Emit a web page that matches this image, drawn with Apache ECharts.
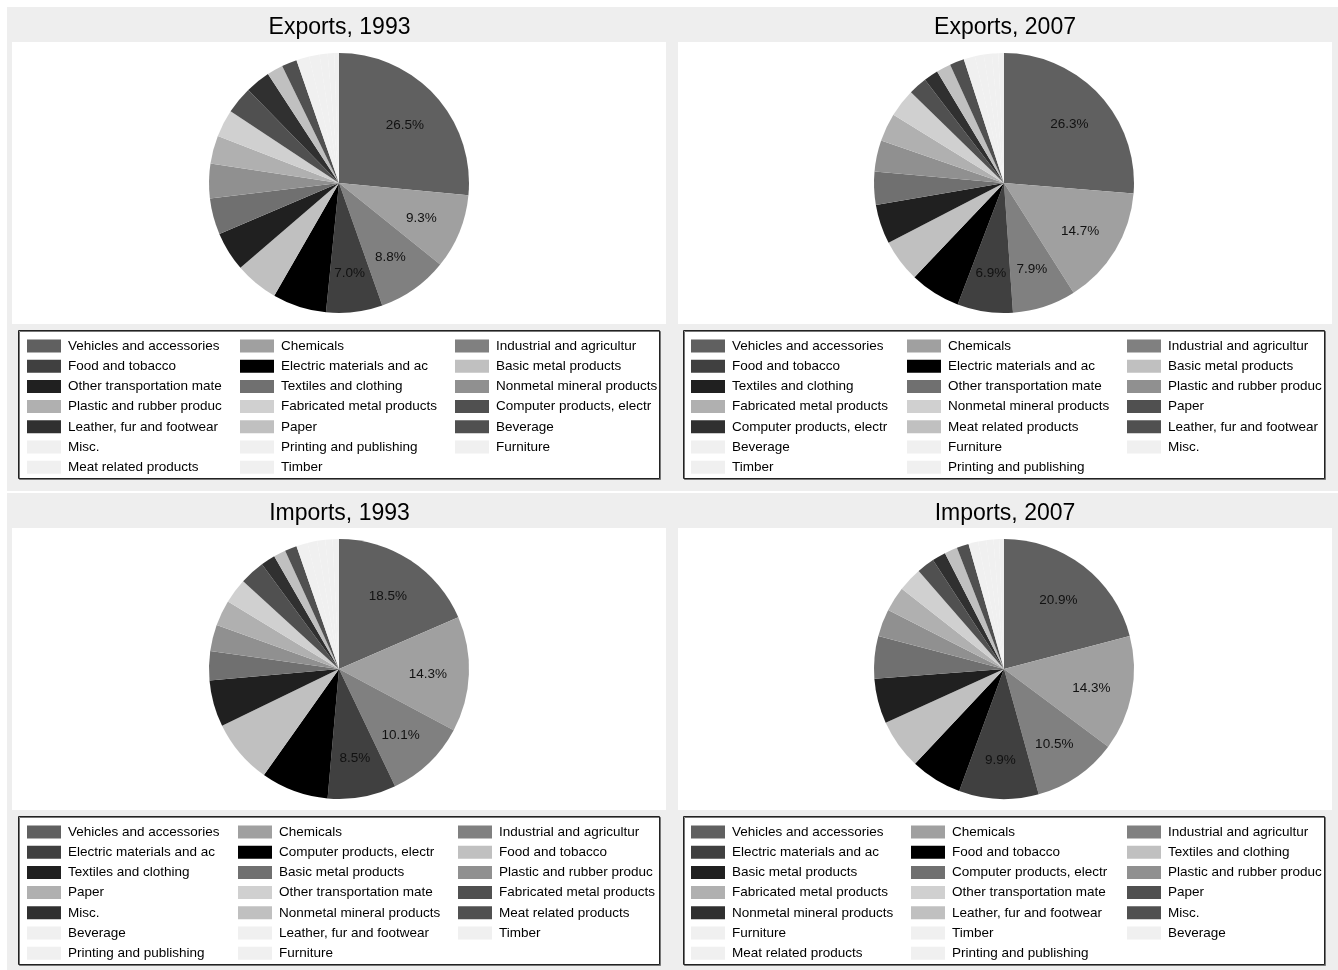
<!DOCTYPE html>
<html><head><meta charset="utf-8">
<script src="https://cdn.jsdelivr.net/npm/echarts@6/dist/echarts.min.js"></script>
<style>
body{margin:0;background:#fff;width:1338px;height:970px;overflow:hidden;}
.p{position:absolute;}
</style>
</head><body>
<div id="c1" class="p" style="left:7px;top:7px;width:665px;height:484px"></div>
<div id="c2" class="p" style="left:672px;top:7px;width:666px;height:484px"></div>
<div id="c3" class="p" style="left:7px;top:493px;width:665px;height:477px"></div>
<div id="c4" class="p" style="left:672px;top:493px;width:666px;height:477px"></div>
<script>
// Slice colours by position (same scheme in all four pies)
const sliceColors = ['#606060','#a0a0a0','#808080','#404040','#000000','#c0c0c0','#202020','#707070','#909090','#b0b0b0','#d0d0d0','#505050','#303030','#c0c0c0','#505050','#f0f0f0','#f0f0f0','#f0f0f0','#f0f0f0','#f0f0f0'];

const titles = ['Exports, 1993', 'Exports, 2007', 'Imports, 1993', 'Imports, 2007'];

const catsExp1993 = ['Vehicles and accessories','Chemicals','Industrial and agricultur','Food and tobacco','Electric materials and ac','Basic metal products','Other transportation mate','Textiles and clothing','Nonmetal mineral products','Plastic and rubber produc','Fabricated metal products','Computer products, electr','Leather, fur and footwear','Paper','Beverage','Misc.','Printing and publishing','Furniture','Meat related products','Timber'];
const valsExp1993 = [26.5, 9.3, 8.8, 7.0, 6.7, 5.4, 4.9, 4.5, 4.3, 3.5, 3.4, 3.4, 3.1, 2.0, 1.9, 1.6, 1.3, 1.0, 0.8, 0.6];

const catsExp2007 = ['Vehicles and accessories','Chemicals','Industrial and agricultur','Food and tobacco','Electric materials and ac','Basic metal products','Textiles and clothing','Other transportation mate','Plastic and rubber produc','Fabricated metal products','Nonmetal mineral products','Paper','Computer products, electr','Meat related products','Leather, fur and footwear','Beverage','Furniture','Misc.','Timber','Printing and publishing'];
const valsExp2007 = [26.3, 14.7, 7.9, 6.9, 6.3, 5.3, 4.9, 4.1, 3.9, 3.5, 3.5, 2.3, 1.8, 1.8, 1.8, 1.4, 1.1, 1.0, 0.8, 0.7];

const catsImp1993 = ['Vehicles and accessories','Chemicals','Industrial and agricultur','Electric materials and ac','Computer products, electr','Food and tobacco','Textiles and clothing','Basic metal products','Plastic and rubber produc','Paper','Other transportation mate','Fabricated metal products','Misc.','Nonmetal mineral products','Meat related products','Beverage','Leather, fur and footwear','Timber','Printing and publishing','Furniture'];
const valsImp1993 = [18.5, 14.3, 10.1, 8.5, 8.4, 8.0, 5.8, 3.6, 3.3, 3.2, 3.1, 3.1, 1.8, 1.5, 1.5, 1.4, 1.2, 1.0, 0.9, 0.8];

const catsImp2007 = ['Vehicles and accessories','Chemicals','Industrial and agricultur','Electric materials and ac','Food and tobacco','Textiles and clothing','Basic metal products','Computer products, electr','Plastic and rubber produc','Fabricated metal products','Other transportation mate','Paper','Nonmetal mineral products','Leather, fur and footwear','Misc.','Furniture','Timber','Beverage','Meat related products','Printing and publishing'];
const valsImp2007 = [20.9, 14.3, 10.5, 9.9, 6.4, 6.2, 5.6, 5.3, 3.4, 3.1, 3.0, 2.2, 1.7, 1.6, 1.5, 1.2, 1.0, 0.9, 0.7, 0.6];

const FONT = 'Liberation Sans, Arial, sans-serif';

function build(id, title, cats, vals, legendCols, plotLeft, plotWidth) {
  const chart = echarts.init(document.getElementById(id), null, {renderer: 'canvas'});
  const data = cats.map((n, i) => ({name: n, value: vals[i], itemStyle: {color: sliceColors[i]}}));
  const labelData = cats.map((n, i) => ({name: n, value: vals[i], label: {show: i < 4}}));
  const legends = legendCols.map((x, c) => ({
    orient: 'vertical', left: x, top: 332, padding: 0,
    itemWidth: 34, itemHeight: 13, itemGap: 6.2, icon: 'rect',
    selectedMode: false,
    textStyle: {fontSize: 13.5, lineHeight: 14, color: '#000', fontFamily: FONT, padding: [0, 0, 0, 2]},
    data: cats.filter((_, i) => i % 3 === c)
  }));
  chart.setOption({
    animation: false,
    backgroundColor: '#eeeeee',
    title: {text: title, left: 'center', top: 9, padding: 0,
      textStyle: {fontSize: 23, fontWeight: 'normal', color: '#000', fontFamily: FONT}},
    graphic: [
      {type: 'rect', z: 0, shape: {x: plotLeft, y: 35, width: plotWidth, height: 282}, style: {fill: '#fff'}},
      {type: 'rect', z: 0, shape: {x: 11.5, y: 323.5, width: 641, height: 148},
        style: {fill: '#fff', stroke: '#222', lineWidth: 1, shadowColor: '#777', shadowOffsetX: 1, shadowOffsetY: 1, shadowBlur: 0}}
    ],
    legend: legends,
    series: [
      {type: 'pie', center: [332, 176], radius: [0, 130], startAngle: 90, clockwise: true,
        avoidLabelOverlap: false, label: {show: false}, labelLine: {show: false},
        itemStyle: {borderWidth: 0}, emphasis: {disabled: true}, data: data},
      {type: 'pie', center: [332, 176], radius: [0, 172], startAngle: 90, clockwise: true,
        silent: true, legendHoverLink: false, avoidLabelOverlap: false,
        itemStyle: {color: 'rgba(0,0,0,0)', borderWidth: 0}, emphasis: {disabled: true},
        label: {position: 'inside', fontSize: 13.5, color: '#111', fontFamily: FONT, offset: [0, 2],
          formatter: p => p.value.toFixed(1) + '%'},
        labelLine: {show: false}, data: labelData}
    ]
  });
}

build('c1', titles[0], catsExp1993, valsExp1993, [20, 233, 448], 5, 654);
build('c2', titles[1], catsExp2007, valsExp2007, [19, 235, 455], 6, 654);
build('c3', titles[2], catsImp1993, valsImp1993, [20, 231, 451], 5, 654);
build('c4', titles[3], catsImp2007, valsImp2007, [19, 239, 455], 6, 654);
</script>
</body></html>
